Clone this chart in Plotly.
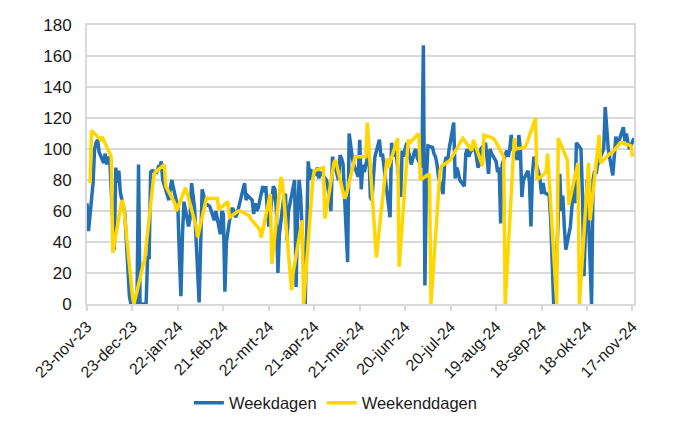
import pandas as pd
import plotly.graph_objects as go

# ---- data ----
# Weekday values, Monday..Friday per week (first week starts Thursday 23-nov-23, last entry is Monday 18-nov-24)
weekdagen_values = [
    65, 47,
    78, 100, 104, 106, 98,
    91, 97, 90, 95, 93,
    35, 88, 78, 86, 72,
    58, 40, 20, 5, 0,
    0, 0, 90, 0, 0,
    0, 30, 30, 85, 86,
    85, 88, 87, 92, 80,
    70, 67, 75, 80, 75,
    62, 30, 5, 45, 66,
    50, 55, 78, 70, 62,
    1, 40, 74, 70, 65,
    63, 60, 57, 54, 60,
    45, 60, 58, 8, 40,
    60, 62, 60, 56, 58,
    70, 75, 78, 67, 70,
    67, 58, 65, 60, 62,
    76, 72, 76, 60, 50,
    76, 74, 60, 20, 45,
    70, 71, 41, 60, 65,
    80, 11, 60, 80, 70,
    0, 60, 92, 80, 86,
    84, 88, 81, 85, 84,
    80, 75, 65, 60, 95,
    85, 80, 96, 94, 90,
    27, 110, 101, 95, 90,
    82, 106, 74, 90, 85,
    99, 69, 67, 85, 95,
    106, 95, 97, 85, 80,
    56, 104, 95, 100, 98,
    69, 99, 95, 100, 104,
    90, 95, 98, 100, 94,
    88, 167, 12, 80, 102,
    101, 97, 95, 90, 82,
    71, 90, 95, 92, 100,
    117, 81, 88, 85, 80,
    76, 97, 100, 95, 98,
    101, 95, 88, 90, 100,
    104, 95, 84, 100, 97,
    92, 85, 88, 52, 90,
    99, 95, 100, 109, 100,
    93, 109, 100, 69, 80,
    86, 79, 50, 85, 95,
    85, 80, 71, 78, 72,
    70, 55, 30, 0, 3,
    84, 60, 70, 50, 35,
    50, 60, 75, 65, 104,
    100, 70, 18, 50, 80,
    0, 80, 86, 84, 90,
    97, 100, 127, 110, 100,
    83, 100, 108, 102, 105,
    114, 105, 110, 104, 100,
    107,
]

# Weekend values, Saturday, Sunday per week
weekenddagen_values = [
    78, 112, 106, 108, 95, 33, 67, 65, 5, 0,
    25, 28, 82, 85, 90, 76, 65, 60, 75, 72,
    50, 43, 69, 68, 68, 61, 66, 56, 60, 60,
    57, 55, 48, 43, 71, 26, 82, 78, 9, 20,
    54, 0, 80, 86, 88, 55, 91, 93, 68, 70,
    95, 95, 95, 117, 30, 40, 94, 88, 107, 24,
    106, 104, 110, 80, 84, 0, 86, 89, 93, 95,
    106, 107, 99, 106, 89, 109, 107, 106, 95, 0,
    107, 100, 101, 103, 120, 80, 85, 97, 0, 107,
    93, 64, 91, 0, 91, 54, 109, 91, 97, 97,
    104, 104, 102, 95,
]

start_date = "2023-11-23"
end_date = "2024-11-18"

tick_dates = ["2023-11-23", "2023-12-23", "2024-01-22", "2024-02-21", "2024-03-22",
              "2024-04-21", "2024-05-21", "2024-06-20", "2024-07-20", "2024-08-19",
              "2024-09-18", "2024-10-18", "2024-11-17"]
tick_labels = ["23-nov-23", "23-dec-23", "22-jan-24", "21-feb-24", "22-mrt-24",
               "21-apr-24", "21-mei-24", "20-jun-24", "20-jul-24", "19-aug-24",
               "18-sep-24", "18-okt-24", "17-nov-24"]

y_ticks = [0, 20, 40, 60, 80, 100, 120, 140, 160, 180]

# ---- dates from the calendar ----
all_days = pd.date_range(start_date, end_date, freq="D")
weekday_dates = [d for d in all_days if d.weekday() < 5]
weekend_dates = [d for d in all_days if d.weekday() >= 5]
n_wd = min(len(weekday_dates), len(weekdagen_values))
n_we = min(len(weekend_dates), len(weekenddagen_values))

blue = "#2470B3"
yellow = "#FFD600"
grid = "#D9D9D9"
font_family = "Liberation Sans, Arial, sans-serif"

fig = go.Figure()
fig.add_trace(go.Scatter(
    x=weekday_dates[:n_wd], y=weekdagen_values[:n_wd], mode="lines",
    name="Weekdagen", line=dict(color=blue, width=3.5),
))
fig.add_trace(go.Scatter(
    x=weekend_dates[:n_we], y=weekenddagen_values[:n_we], mode="lines",
    name="Weekenddagen", line=dict(color=yellow, width=3.5),
))

# page body has an 8px margin, so the figure is sized/offset to compensate
fig.update_layout(
    width=692, height=422,
    margin=dict(l=79, r=66, t=17, b=126, autoexpand=False),
    paper_bgcolor="white", plot_bgcolor="white",
    font=dict(family=font_family, size=16, color="#1a1a1a"),
    showlegend=True,
    legend=dict(orientation="h", x=0.455, xanchor="center", y=-0.355, yanchor="middle",
                font=dict(size=16.5), itemwidth=30, tracegroupgap=0),
)
fig.update_xaxes(
    type="date", automargin=False,
    range=[start_date, end_date],
    tickvals=tick_dates, ticktext=tick_labels,
    tickangle=-45, ticks="outside", ticklen=5, tickcolor=grid, tickwidth=2,
    showgrid=False, showline=True, linecolor=grid, linewidth=2, mirror=True,
    tickfont=dict(size=16),
    zeroline=False,
)
fig.update_yaxes(
    automargin=False,
    range=[0, 180], tickvals=y_ticks, ticktext=[str(v) for v in y_ticks],
    showgrid=True, gridcolor=grid, gridwidth=1.5,
    showline=True, linecolor=grid, linewidth=2, mirror=True,
    ticks="", tickfont=dict(size=17), ticklabelstandoff=10, zeroline=False,
)

fig.write_html("out.html")
